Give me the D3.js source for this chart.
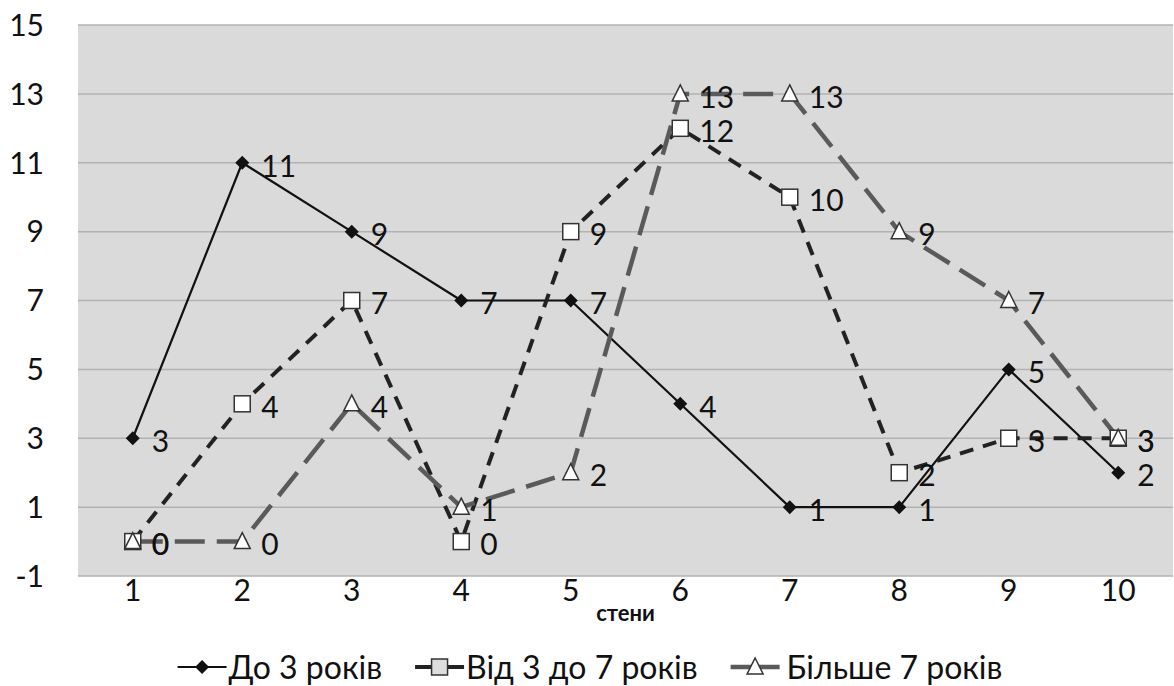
<!DOCTYPE html>
<html>
<head>
<meta charset="utf-8">
<script src="https://cdn.jsdelivr.net/npm/d3@7"></script>
<style>
  body { margin: 0; background: #fff; }
  svg text { font-family: Lato, "Open Sans", sans-serif; fill: #111; }
</style>
</head>
<body>
<div id="chart"></div>
<script>
// data
var categories = [1, 2, 3, 4, 5, 6, 7, 8, 9, 10];
var seriesNames = ['До 3 років', 'Від 3 до 7 років', 'Більше 7 років'];
var under3 = [3, 11, 9, 7, 7, 4, 1, 1, 5, 2];
var from3to7 = [0, 4, 7, 0, 9, 12, 10, 2, 3, 3];
var over7 = [0, 0, 4, 1, 2, 13, 13, 9, 7, 3];
var yTicks = [-1, 1, 3, 5, 7, 9, 11, 13, 15];
var xTitle = 'стени';

var W = 1174, H = 686;
var plot = { left: 78, right: 1173, top: 25, bottom: 576 };

var styles = [
	{ values: under3, stroke: '#111', width: 2.2, dash: null, marker: 'diamond', legendFill: '#111' },
	{ values: from3to7, stroke: '#222', width: 4, dash: '14,10', marker: 'square', legendFill: '#ddd' },
	{ values: over7, stroke: '#5a5a5a', width: 4.5, dash: '30,12', marker: 'triangle', legendFill: '#fff' }
];

var svg = d3.select('#chart')
	.append('svg')
	.attr('width', W)
	.attr('height', H);

var x = d3.scalePoint()
	.domain(categories)
	.range([plot.left, plot.right])
	.padding(0.5);

var y = d3.scaleLinear()
	.domain([-1, 15])
	.range([plot.bottom, plot.top]);

svg.append('rect')
	.attr('x', plot.left)
	.attr('y', plot.top)
	.attr('width', plot.right - plot.left)
	.attr('height', plot.bottom - plot.top)
	.attr('fill', '#dadada');

svg.append('g')
	.selectAll('line')
	.data(yTicks)
	.enter()
	.append('line')
	.attr('x1', plot.left)
	.attr('x2', plot.right)
	.attr('y1', d => y(d))
	.attr('y2', d => y(d))
	.attr('stroke', '#b2b2b2')
	.attr('stroke-width', 1.5);

// y tick labels
svg.append('g')
	.selectAll('text')
	.data(yTicks)
	.enter()
	.append('text')
	.attr('x', 44)
	.attr('y', d => y(d))
	.attr('dy', '0.36em')
	.attr('text-anchor', 'end')
	.style('font-size', '30px')
	.text(d => d);

// x tick labels
svg.append('g')
	.selectAll('text')
	.data(categories)
	.enter()
	.append('text')
	.attr('x', d => x(d))
	.attr('y', 601)
	.attr('text-anchor', 'middle')
	.style('font-size', '30px')
	.text(d => d);

svg.append('text')
	.attr('x', (plot.left + plot.right) / 2)
	.attr('y', 621)
	.attr('text-anchor', 'middle')
	.style('font-size', '22px')
	.style('font-weight', 'bold')
	.text(xTitle);

var line = d3.line()
	.x((d, i) => x(categories[i]))
	.y(d => y(d));

var drawMarker = function(g, type, cx, cy, fill) {
	if (type == 'diamond') {
		g.append('path')
			.attr('d', 'M' + cx + ',' + (cy - 7) + 'L' + (cx + 7) + ',' + cy + 'L' + cx + ',' + (cy + 7) + 'L' + (cx - 7) + ',' + cy + 'Z')
			.attr('fill', '#111');
	}
	else if (type == 'square') {
		g.append('rect')
			.attr('x', cx - 8)
			.attr('y', cy - 8)
			.attr('width', 16)
			.attr('height', 16)
			.attr('fill', fill || '#fff')
			.attr('stroke', '#333')
			.attr('stroke-width', 1.5);
	}
	else {
		g.append('path')
			.attr('d', 'M' + cx + ',' + (cy - 9) + 'L' + (cx + 8) + ',' + (cy + 7) + 'L' + (cx - 8) + ',' + (cy + 7) + 'Z')
			.attr('fill', fill || '#fff')
			.attr('stroke', '#333')
			.attr('stroke-width', 1.5);
	}
}

var seriesG = svg.append('g');
styles.forEach(function(s) {
	seriesG.append('path')
		.datum(s.values)
		.attr('d', line)
		.attr('fill', 'none')
		.attr('stroke', s.stroke)
		.attr('stroke-width', s.width)
		.attr('stroke-dasharray', s.dash)
		.attr('stroke-linejoin', 'round');
});
styles.forEach(function(s) {
	var mg = seriesG.append('g');
	s.values.forEach(function(v, i) {
		drawMarker(mg, s.marker, x(categories[i]), y(v));
	});
});

// data labels
styles.forEach(function(s) {
	seriesG.append('g')
		.selectAll('text')
		.data(s.values)
		.enter()
		.append('text')
		.attr('x', (d, i) => x(categories[i]) + 19)
		.attr('y', d => y(d) + 3)
		.attr('dy', '0.36em')
		.style('font-size', '30px')
		.text(d => d);
});

// legend
var legend = svg.append('g');
var lx = 0;
var gap = 33;
styles.forEach(function(s, i) {
	var item = legend.append('g').attr('transform', 'translate(' + lx + ',0)');
	item.append('line')
		.attr('x1', 0)
		.attr('x2', 49)
		.attr('y1', 0)
		.attr('y2', 0)
		.attr('stroke', s.stroke)
		.attr('stroke-width', s.width);
	drawMarker(item, s.marker, 24.5, 0, s.legendFill);
	var t = item.append('text')
		.attr('x', i == 2 ? 56 : 51)
		.attr('y', 0)
		.attr('dy', '0.36em')
		.style('font-size', '32px')
		.text(seriesNames[i]);
	lx += (i == 2 ? 56 : 51) + t.node().getComputedTextLength() + gap;
});
lx -= gap;
legend.attr('transform', 'translate(' + (W / 2 + 3 - lx / 2) + ',667)');
</script>
</body>
</html>
